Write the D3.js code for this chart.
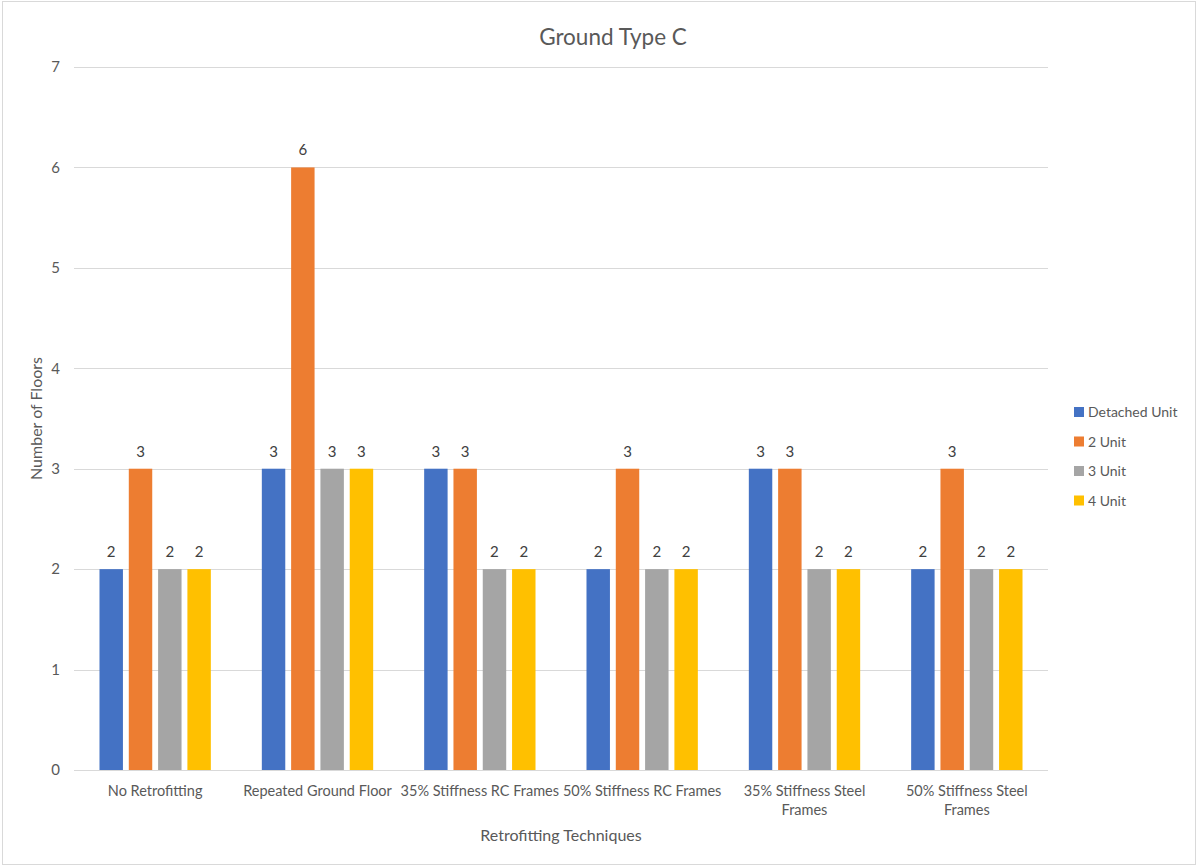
<!DOCTYPE html>
<html>
<head>
<meta charset="utf-8">
<script src="https://cdn.jsdelivr.net/npm/d3@7"></script>
<style>
  html, body { margin: 0; padding: 0; background: #fff; }
  svg { display: block; font-family: "Lato", "Open Sans", sans-serif; }
</style>
</head>
<body>
<svg id="chart" width="1198" height="867"></svg>
<script>
// Retrofitting techniques (x categories)
const categories = [
  "No Retrofitting",
  "Repeated Ground Floor",
  "35% Stiffness RC Frames",
  "50% Stiffness RC Frames",
  "35% Stiffness Steel Frames",
  "50% Stiffness Steel Frames"
];
// Series: number of floors per building type
const seriesNames = ["Detached Unit", "2 Unit", "3 Unit", "4 Unit"];
const detachedUnit = [2, 3, 3, 2, 3, 2];
const twoUnit      = [3, 6, 3, 3, 3, 3];
const threeUnit    = [2, 3, 2, 2, 2, 2];
const fourUnit     = [2, 3, 2, 2, 2, 2];
const yTicks = [0, 1, 2, 3, 4, 5, 6, 7];

const seriesValues = [detachedUnit, twoUnit, threeUnit, fourUnit];
const colors = ["#4472C4", "#ED7D31", "#A5A5A5", "#FFC000"];

const svg = d3.select("#chart");
const W = 1198, H = 867;
const plot = { left: 74, right: 1048, top: 67, bottom: 770 };
const textColor = "#595959";

// outer chart frame
svg.append("rect")
  .attr("x", 2.5).attr("y", 1.5)
  .attr("width", W - 5).attr("height", H - 4)
  .attr("fill", "#fff").attr("stroke", "#d9d9d9").attr("stroke-width", 1);

const x0 = d3.scaleBand().domain(categories).range([plot.left, plot.right]).padding(0);
const x1 = d3.scaleBand().domain(seriesNames)
  .range([0, x0.bandwidth()]).paddingInner(0.2).paddingOuter(0.87);
const y = d3.scaleLinear().domain([0, 7]).range([plot.bottom, plot.top]);

// horizontal gridlines
svg.append("g")
  .selectAll("line")
  .data(yTicks)
  .join("line")
  .attr("x1", plot.left).attr("x2", plot.right)
  .attr("y1", d => Math.round(y(d)) + 0.5).attr("y2", d => Math.round(y(d)) + 0.5)
  .attr("stroke", "#d9d9d9").attr("stroke-width", 1);

// y axis tick labels
const yAxis = d3.axisLeft(y).tickValues(yTicks).tickSize(0).tickPadding(0).tickFormat(d3.format("d"));
const gy = svg.append("g").attr("transform", `translate(${plot.left - 14},0)`).call(yAxis);
gy.select(".domain").remove();
gy.selectAll("text").attr("fill", textColor).style("font-size", "15px")
  .style("font-family", "Lato, sans-serif");

// bars
const rows = categories.map((c, i) => ({ cat: c, vals: seriesNames.map((s, j) => ({ s, j, v: seriesValues[j][i] })) }));
const groups = svg.append("g").selectAll("g")
  .data(rows).join("g")
  .attr("transform", d => `translate(${x0(d.cat)},0)`);

groups.selectAll("rect")
  .data(d => d.vals)
  .join("rect")
  .attr("x", d => x1(d.s))
  .attr("y", d => y(d.v))
  .attr("width", x1.bandwidth())
  .attr("height", d => y(0) - y(d.v))
  .attr("fill", d => colors[d.j]);

// value labels
groups.selectAll("text")
  .data(d => d.vals)
  .join("text")
  .attr("x", d => x1(d.s) + x1.bandwidth() / 2)
  .attr("y", d => y(d.v) - 12)
  .attr("text-anchor", "middle")
  .attr("fill", "#404040")
  .style("font-size", "15px")
  .text(d => d.v);

// x axis baseline
svg.append("line")
  .attr("x1", plot.left).attr("x2", plot.right)
  .attr("y1", Math.round(y(0)) + 0.5).attr("y2", Math.round(y(0)) + 0.5)
  .attr("stroke", "#d9d9d9");

// x category labels, wrapped to the band width
const maxLabelWidth = x0.bandwidth() - 2;
const xl = svg.append("g").selectAll("text")
  .data(categories).join("text")
  .attr("x", d => x0(d) + x0.bandwidth() / 2)
  .attr("y", plot.bottom + 26)
  .attr("text-anchor", "middle")
  .attr("fill", textColor)
  .style("font-size", "14.5px");

xl.each(function(d) {
  const t = d3.select(this);
  const words = d.split(" ");
  let line = [];
  let tspan = t.append("tspan").attr("x", t.attr("x")).attr("dy", 0);
  for (const w of words) {
    line.push(w);
    tspan.text(line.join(" "));
    if (tspan.node().getComputedTextLength() > maxLabelWidth && line.length > 1) {
      line.pop();
      tspan.text(line.join(" "));
      line = [w];
      tspan = t.append("tspan").attr("x", t.attr("x")).attr("dy", 19).text(w);
    }
  }
});

// chart title
svg.append("text")
  .attr("x", (plot.left + plot.right) / 2 + 52)
  .attr("y", 45)
  .attr("text-anchor", "middle")
  .attr("fill", textColor)
  .style("font-size", "22.5px")
  .text("Ground Type C");

// axis titles
svg.append("text")
  .attr("x", (plot.left + plot.right) / 2)
  .attr("y", 841)
  .attr("text-anchor", "middle")
  .attr("fill", textColor)
  .style("font-size", "16px")
  .text("Retrofitting Techniques");

svg.append("text")
  .attr("transform", `translate(42,${(plot.top + plot.bottom) / 2}) rotate(-90)`)
  .attr("text-anchor", "middle")
  .attr("fill", textColor)
  .style("font-size", "16px")
  .text("Number of Floors");

// legend
const legend = svg.append("g").selectAll("g")
  .data(seriesNames).join("g")
  .attr("transform", (d, i) => `translate(1074,${412 + i * 29.5})`);
legend.append("rect")
  .attr("x", 0).attr("y", -5).attr("width", 10).attr("height", 10)
  .attr("fill", (d, i) => colors[i]);
legend.append("text")
  .attr("x", 14).attr("y", 5)
  .attr("fill", textColor)
  .style("font-size", "14px")
  .text(d => d);
</script>
</body>
</html>
